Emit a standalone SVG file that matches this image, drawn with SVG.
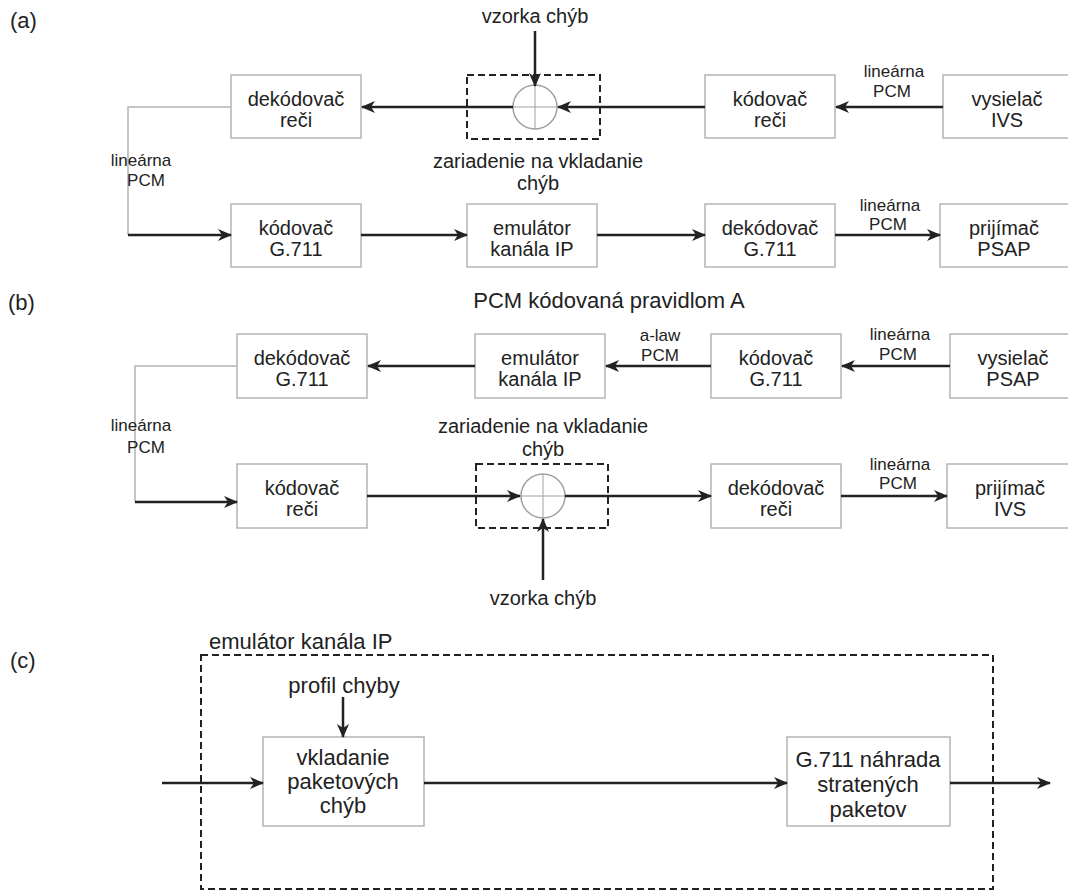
<svg xmlns="http://www.w3.org/2000/svg" width="1068" height="894" viewBox="0 0 1068 894">
  <style>
    .box { fill: #ffffff; stroke: #b4b4b4; stroke-width: 1.5; }
    .dash { fill: none; stroke: #222; stroke-width: 2; stroke-dasharray: 7 4; }
    .sum { fill: #ffffff; stroke: #a0a0a0; stroke-width: 1.5; }
    .cross { stroke: #a0a0a0; stroke-width: 1; }
    .t { font-family: "Liberation Sans", Arial, sans-serif; font-size: 20px; fill: #222; text-anchor: middle; }
    .c { font-family: "Liberation Sans", Arial, sans-serif; font-size: 22px; fill: #222; text-anchor: middle; }
    .s { font-family: "Liberation Sans", Arial, sans-serif; font-size: 17px; fill: #222; text-anchor: middle; }
    .h { font-family: "Liberation Sans", Arial, sans-serif; font-size: 22px; fill: #222; }
    .w { fill: none; stroke: #222; stroke-width: 2.5; marker-end: url(#arr); }
    .g { fill: none; stroke: #b4b4b4; stroke-width: 1.5; }
  </style>
  <defs>
    <marker id="arr" viewBox="0 0 14 12" refX="13" refY="6" markerWidth="14" markerHeight="12" markerUnits="userSpaceOnUse" orient="auto">
      <path d="M0,0 L14,6 L0,12 L4,6 z" fill="#222"/>
    </marker>
  </defs>
  <rect width="1068" height="894" fill="#ffffff"/>

  <!-- section labels -->
  <text class="h" x="10" y="28">(a)</text>
  <text class="h" x="8" y="310">(b)</text>
  <text class="h" x="10" y="668">(c)</text>
  <text class="h" x="609" y="308" font-size="25" text-anchor="middle">PCM kódovaná pravidlom A</text>

  <!-- (a) nodes -->
  <g id="a-dekodovac-reci">
    <rect class="box" x="231" y="75" width="130" height="63"/>
    <text class="t" x="296" y="106">dekódovač</text>
    <text class="t" x="296" y="127">reči</text>
  </g>
  <g id="a-vkladanie">
    <rect class="dash" x="467" y="75" width="133" height="64"/>
    <circle class="sum" cx="535" cy="107" r="22"/>
    <line class="cross" x1="513" y1="107" x2="557" y2="107"/>
    <line class="cross" x1="535" y1="85" x2="535" y2="129"/>
    <text class="t" x="538" y="168">zariadenie na vkladanie</text>
    <text class="t" x="538" y="190">chýb</text>
    <text class="t" x="535" y="23">vzorka chýb</text>
  </g>
  <g id="a-kodovac-reci">
    <rect class="box" x="705" y="75" width="130" height="63"/>
    <text class="t" x="770" y="106">kódovač</text>
    <text class="t" x="770" y="127">reči</text>
  </g>
  <g id="a-vysielac-ivs">
    <rect class="box" x="943" y="75" width="130" height="63"/>
    <text class="t" x="1007" y="106">vysielač</text>
    <text class="t" x="1007" y="127">IVS</text>
  </g>
  <g id="a-kodovac-g711">
    <rect class="box" x="231" y="204" width="130" height="63"/>
    <text class="t" x="296" y="235">kódovač</text>
    <text class="t" x="296" y="256">G.711</text>
  </g>
  <g id="a-emulator">
    <rect class="box" x="467" y="204" width="130" height="63"/>
    <text class="t" x="532" y="235">emulátor</text>
    <text class="t" x="532" y="256">kanála IP</text>
  </g>
  <g id="a-dekodovac-g711">
    <rect class="box" x="705" y="204" width="130" height="63"/>
    <text class="t" x="770" y="235">dekódovač</text>
    <text class="t" x="770" y="256">G.711</text>
  </g>
  <g id="a-prijimac-psap">
    <rect class="box" x="940" y="204" width="130" height="63"/>
    <text class="t" x="1004" y="235">prijímač</text>
    <text class="t" x="1004" y="256">PSAP</text>
  </g>

  <!-- (b) nodes -->
  <g id="b-dekodovac-g711">
    <rect class="box" x="237" y="334" width="130" height="64"/>
    <text class="t" x="302" y="365">dekódovač</text>
    <text class="t" x="302" y="386">G.711</text>
  </g>
  <g id="b-emulator">
    <rect class="box" x="475" y="334" width="130" height="64"/>
    <text class="t" x="540" y="365">emulátor</text>
    <text class="t" x="540" y="386">kanála IP</text>
  </g>
  <g id="b-kodovac-g711">
    <rect class="box" x="711" y="334" width="130" height="64"/>
    <text class="t" x="776" y="365">kódovač</text>
    <text class="t" x="776" y="386">G.711</text>
  </g>
  <g id="b-vysielac-psap">
    <rect class="box" x="950" y="334" width="130" height="64"/>
    <text class="t" x="1013" y="365">vysielač</text>
    <text class="t" x="1013" y="386">PSAP</text>
  </g>
  <g id="b-kodovac-reci">
    <rect class="box" x="237" y="464" width="130" height="64"/>
    <text class="t" x="302" y="495">kódovač</text>
    <text class="t" x="302" y="516">reči</text>
  </g>
  <g id="b-vkladanie">
    <rect class="dash" x="476" y="464" width="132" height="64"/>
    <circle class="sum" cx="543" cy="496" r="22"/>
    <line class="cross" x1="521" y1="496" x2="565" y2="496"/>
    <line class="cross" x1="543" y1="474" x2="543" y2="518"/>
    <text class="t" x="543" y="433">zariadenie na vkladanie</text>
    <text class="t" x="543" y="456">chýb</text>
    <text class="t" x="543" y="605">vzorka chýb</text>
  </g>
  <g id="b-dekodovac-reci">
    <rect class="box" x="711" y="464" width="130" height="64"/>
    <text class="t" x="776" y="495">dekódovač</text>
    <text class="t" x="776" y="516">reči</text>
  </g>
  <g id="b-prijimac-ivs">
    <rect class="box" x="947" y="464" width="130" height="64"/>
    <text class="t" x="1010" y="495">prijímač</text>
    <text class="t" x="1010" y="516">IVS</text>
  </g>

  <!-- (c) nodes -->
  <g id="c-emulator">
    <rect class="dash" x="201" y="655" width="792" height="234"/>
    <text class="h" x="209" y="649" font-size="24.5">emulátor kanála IP</text>
  </g>
  <g id="c-vkladanie">
    <rect class="box" x="263" y="737" width="161" height="89"/>
    <text class="c" x="343" y="765">vkladanie</text>
    <text class="c" x="343" y="789">paketových</text>
    <text class="c" x="343" y="813">chýb</text>
    <text class="c" x="344" y="693" font-size="22.5">profil chyby</text>
  </g>
  <g id="c-nahrada">
    <rect class="box" x="787" y="737" width="163" height="89"/>
    <text class="c" x="868" y="767">G.711 náhrada</text>
    <text class="c" x="868" y="792">stratených</text>
    <text class="c" x="868" y="817">paketov</text>
  </g>

  <!-- connectors -->
  <g id="connectors">
    <!-- (a) -->
    <line class="w" x1="535" y1="31" x2="535" y2="86"/>
    <line class="w" x1="705" y1="107" x2="558" y2="107"/>
    <line class="w" x1="513" y1="107" x2="362" y2="107"/>
    <line class="w" x1="943" y1="107" x2="836" y2="107"/>
    <polyline class="g" points="231,107 128,107 128,235"/>
    <line class="w" x1="128" y1="235" x2="231" y2="235"/>
    <line class="w" x1="361" y1="235" x2="467" y2="235"/>
    <line class="w" x1="597" y1="235" x2="705" y2="235"/>
    <line class="w" x1="835" y1="235" x2="940" y2="235"/>
    <text class="s" x="894" y="77">lineárna</text>
    <text class="s" x="892" y="97">PCM</text>
    <text class="s" x="890" y="211">lineárna</text>
    <text class="s" x="888" y="230">PCM</text>
    <text class="s" x="141" y="166" text-anchor="start">lineárna</text>
    <text class="s" x="146" y="186" text-anchor="start">PCM</text>

    <!-- (b) -->
    <line class="w" x1="950" y1="366" x2="842" y2="366"/>
    <line class="w" x1="711" y1="366" x2="606" y2="366"/>
    <line class="w" x1="475" y1="366" x2="368" y2="366"/>
    <polyline class="g" points="237,366 135,366 135,502"/>
    <line class="w" x1="135" y1="502" x2="237" y2="502"/>
    <line class="w" x1="367" y1="496" x2="520" y2="496"/>
    <line class="w" x1="565" y1="496" x2="711" y2="496"/>
    <line class="w" x1="841" y1="496" x2="947" y2="496"/>
    <line class="w" x1="543" y1="580" x2="543" y2="519"/>
    <text class="s" x="900" y="340">lineárna</text>
    <text class="s" x="898" y="360">PCM</text>
    <text class="s" x="660" y="341">a-law</text>
    <text class="s" x="660" y="361">PCM</text>
    <text class="s" x="900" y="470">lineárna</text>
    <text class="s" x="898" y="489">PCM</text>
    <text class="s" x="141" y="431" text-anchor="start">lineárna</text>
    <text class="s" x="146" y="453" text-anchor="start">PCM</text>

    <!-- (c) -->
    <line class="w" x1="343" y1="697" x2="343" y2="737"/>
    <line class="w" x1="162" y1="783" x2="263" y2="783"/>
    <line class="w" x1="424" y1="783" x2="787" y2="783"/>
    <line class="w" x1="950" y1="783" x2="1050" y2="783"/>
  </g>
</svg>
